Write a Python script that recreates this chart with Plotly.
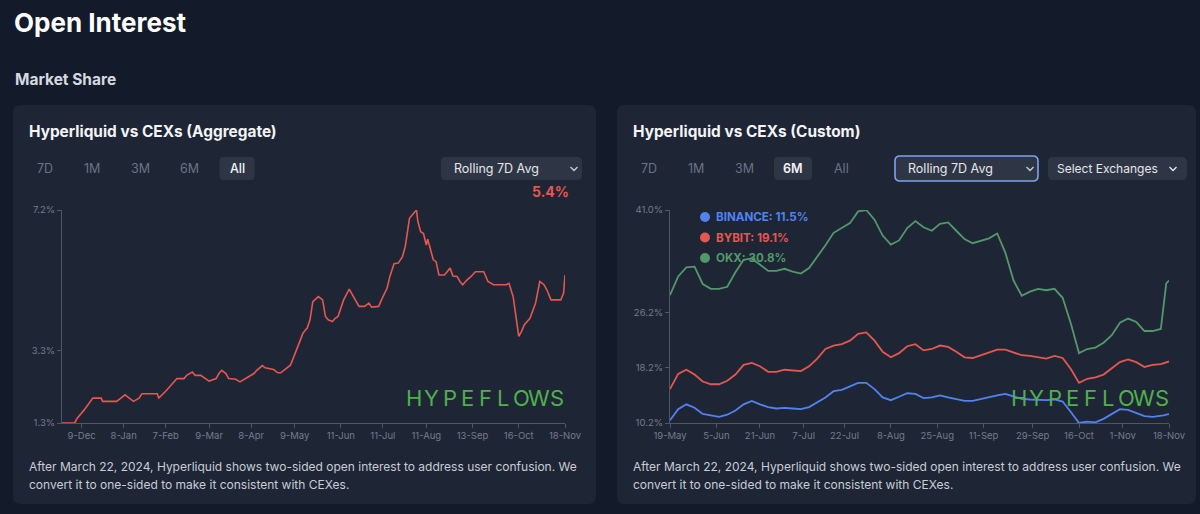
import plotly.graph_objects as go

W, H = 1200, 514

# ---------------- DATA ----------------
agg_dates = [
    "2023-11-25", "2023-12-04", "2023-12-06", "2023-12-11", "2023-12-17", "2023-12-23", "2023-12-24",
    "2024-01-03", "2024-01-06", "2024-01-09", "2024-01-12", "2024-01-15", "2024-01-19", "2024-01-21",
    "2024-02-01", "2024-02-02", "2024-02-07", "2024-02-13", "2024-02-15", "2024-02-20", "2024-02-22",
    "2024-02-26", "2024-02-28", "2024-03-03", "2024-03-06", "2024-03-09", "2024-03-14", "2024-03-16",
    "2024-03-18", "2024-03-21", "2024-03-23", "2024-03-28", "2024-03-31", "2024-04-03", "2024-04-06",
    "2024-04-10", "2024-04-12", "2024-04-16", "2024-04-18", "2024-04-24", "2024-04-27", "2024-04-29",
    "2024-05-02", "2024-05-06", "2024-05-08", "2024-05-12", "2024-05-15", "2024-05-18", "2024-05-20",
    "2024-05-22", "2024-05-26", "2024-05-29", "2024-05-31", "2024-06-02", "2024-06-05", "2024-06-07",
    "2024-06-09", "2024-06-13", "2024-06-17", "2024-06-20", "2024-06-24", "2024-06-28", "2024-07-01",
    "2024-07-03", "2024-07-08", "2024-07-10", "2024-07-14", "2024-07-16", "2024-07-19", "2024-07-22",
    "2024-07-25", "2024-07-27", "2024-07-30", "2024-08-02", "2024-08-04", "2024-08-05", "2024-08-07",
    "2024-08-09", "2024-08-11", "2024-08-12", "2024-08-14", "2024-08-16", "2024-08-18", "2024-08-20",
    "2024-08-24", "2024-08-28", "2024-08-30", "2024-09-02", "2024-09-04", "2024-09-06", "2024-09-09",
    "2024-09-12", "2024-09-15", "2024-09-21", "2024-09-24", "2024-09-28", "2024-10-07", "2024-10-09",
    "2024-10-12", "2024-10-14", "2024-10-16", "2024-10-18", "2024-10-20", "2024-10-24", "2024-10-28",
    "2024-10-31", "2024-11-03", "2024-11-05", "2024-11-08", "2024-11-15", "2024-11-17", "2024-11-18",
]
agg_share = [
    1.30, 1.30, 1.44, 1.67, 1.99, 1.99, 1.90,
    1.90, 1.99, 2.08, 1.99, 1.90, 1.99, 2.11,
    2.11, 1.99, 2.18, 2.44, 2.53, 2.53, 2.62,
    2.71, 2.62, 2.62, 2.53, 2.46, 2.53, 2.67,
    2.76, 2.67, 2.53, 2.51, 2.44, 2.51, 2.58,
    2.67, 2.76, 2.89, 2.83, 2.78, 2.69, 2.69,
    2.78, 2.90, 3.09, 3.47, 3.79, 3.93, 4.16,
    4.66, 4.80, 4.71, 4.25, 4.16, 4.11, 4.20,
    4.25, 4.71, 5.01, 4.80, 4.53, 4.53, 4.62,
    4.51, 4.53, 4.71, 5.03, 5.36, 5.71, 5.73,
    5.91, 6.19, 6.97, 7.11, 7.20, 6.88, 6.60,
    6.55, 6.23, 6.39, 6.09, 5.82, 5.77, 5.40,
    5.40, 5.59, 5.37, 5.36, 5.22, 5.13, 5.26,
    5.36, 5.49, 5.49, 5.22, 5.13, 5.13, 5.17,
    4.80, 4.25, 3.70, 3.84, 4.02, 4.20, 4.62,
    5.22, 5.13, 4.99, 4.71, 4.71, 4.90, 5.40,
]
agg_tickvals = ["2023-12-09", "2024-01-08", "2024-02-07", "2024-03-09", "2024-04-08", "2024-05-09",
                "2024-06-11", "2024-07-11", "2024-08-11", "2024-09-13", "2024-10-16", "2024-11-18"]
agg_ticktext = ["9-Dec", "8-Jan", "7-Feb", "9-Mar", "8-Apr", "9-May",
                "11-Jun", "11-Jul", "11-Aug", "13-Sep", "16-Oct", "18-Nov"]
agg_yticks = [1.3, 3.3, 7.2]
agg_ytext = ["1.3%", "3.3%", "7.2%"]

cex_dates = [
    "2024-05-19", "2024-05-22", "2024-05-25", "2024-05-28", "2024-05-31", "2024-06-03", "2024-06-06",
    "2024-06-09", "2024-06-12", "2024-06-15", "2024-06-18", "2024-06-21", "2024-06-24", "2024-06-27",
    "2024-06-30", "2024-07-03", "2024-07-06", "2024-07-09", "2024-07-12", "2024-07-15", "2024-07-18",
    "2024-07-21", "2024-07-24", "2024-07-27", "2024-07-30", "2024-08-02", "2024-08-05", "2024-08-08",
    "2024-08-11", "2024-08-14", "2024-08-17", "2024-08-20", "2024-08-23", "2024-08-26", "2024-08-29",
    "2024-09-01", "2024-09-04", "2024-09-07", "2024-09-10", "2024-09-13", "2024-09-16", "2024-09-19",
    "2024-09-22", "2024-09-25", "2024-09-28", "2024-10-01", "2024-10-04", "2024-10-07", "2024-10-10",
    "2024-10-13", "2024-10-16", "2024-10-19", "2024-10-22", "2024-10-25", "2024-10-28", "2024-10-31",
    "2024-11-03", "2024-11-06", "2024-11-09", "2024-11-12", "2024-11-15", "2024-11-16", "2024-11-17",
    "2024-11-18",
]
okx_share = [
    28.7, 31.4, 32.7, 32.8, 30.3, 29.6, 29.6,
    29.9, 32.0, 33.8, 34.0, 33.1, 32.2, 32.2,
    32.5, 32.1, 31.8, 32.6, 34.2, 35.9, 37.7,
    38.4, 39.1, 40.8, 41.0, 39.6, 37.3, 36.0,
    36.6, 38.4, 39.4, 38.5, 38.0, 39.0, 39.2,
    38.0, 36.8, 36.2, 36.6, 36.9, 37.6, 34.8,
    30.8, 28.6, 29.2, 29.6, 29.4, 29.6, 28.3,
    24.6, 20.3, 20.9, 21.1, 21.8, 22.9, 24.7,
    25.3, 24.8, 23.5, 23.5, 23.8, 27.0, 30.4,
    30.8,
]
bybit_share = [
    15.1, 17.3, 17.9, 17.2, 16.2, 15.8, 15.8,
    16.3, 17.2, 18.6, 18.9, 18.4, 17.6, 17.6,
    17.9, 17.8, 17.7, 18.4, 19.5, 20.9, 21.4,
    21.6, 22.1, 23.1, 23.3, 22.1, 20.5, 19.7,
    20.3, 21.3, 21.6, 20.7, 20.9, 21.4, 21.2,
    20.5, 19.7, 19.6, 20.0, 20.4, 20.8, 20.8,
    20.4, 20.0, 19.9, 19.7, 19.5, 19.9, 19.6,
    18.0, 16.0, 16.6, 16.8, 17.2, 18.1, 19.0,
    19.4, 19.0, 18.3, 18.6, 18.7, 18.8, 18.9,
    19.1,
]
binance_share = [
    10.6, 12.2, 12.9, 12.4, 11.5, 11.3, 11.1,
    11.4, 12.0, 12.9, 13.4, 12.9, 12.5, 12.3,
    12.4, 12.3, 12.2, 12.5, 13.2, 13.9, 14.8,
    15.0, 15.5, 16.0, 16.0, 15.1, 13.9, 13.5,
    14.0, 14.5, 14.4, 13.8, 13.9, 14.2, 13.9,
    13.6, 13.4, 13.4, 13.7, 14.0, 14.2, 14.4,
    14.0, 13.7, 13.6, 13.5, 13.5, 13.6, 13.3,
    11.8, 10.2, 10.4, 10.3, 10.8, 11.5, 12.2,
    12.1, 11.6, 11.2, 11.1, 11.2, 11.3, 11.4,
    11.5,
]
cex_tickvals = ["2024-05-19", "2024-06-05", "2024-06-21", "2024-07-07", "2024-07-22", "2024-08-08",
                "2024-08-25", "2024-09-11", "2024-09-29", "2024-10-16", "2024-11-01", "2024-11-18"]
cex_ticktext = ["19-May", "5-Jun", "21-Jun", "7-Jul", "22-Jul", "8-Aug",
                "25-Aug", "11-Sep", "29-Sep", "16-Oct", "1-Nov", "18-Nov"]
cex_yticks = [10.2, 18.2, 26.2, 41.0]
cex_ytext = ["10.2%", "18.2%", "26.2%", "41.0%"]

exchanges = ["BINANCE", "BYBIT", "OKX"]
range_buttons = ["7D", "1M", "3M", "6M", "All"]

# ---------------- STYLE ----------------
FONT = "Inter"
PAGE_BG = "#131a29"
PANEL_BG = "#1e2535"
BTN_BG = "#2e3646"
AXIS_C = "#4f5666"
TICK_C = "#757d8c"
RED = "#e5574f"
BLUE = "#5183f0"
GREEN = "#52996a"
WM_GREEN = "#4fb04c"


def px(x):
    return x / W


def py(y):
    return 1 - y / H


def rrect(x0, y0, x1, y1, r, fill, line_color=None, line_width=0):
    pts = [
        f"M{px(x0 + r)},{py(y0)}", f"L{px(x1 - r)},{py(y0)}", f"Q{px(x1)},{py(y0)} {px(x1)},{py(y0 + r)}",
        f"L{px(x1)},{py(y1 - r)}", f"Q{px(x1)},{py(y1)} {px(x1 - r)},{py(y1)}",
        f"L{px(x0 + r)},{py(y1)}", f"Q{px(x0)},{py(y1)} {px(x0)},{py(y1 - r)}",
        f"L{px(x0)},{py(y0 + r)}", f"Q{px(x0)},{py(y0)} {px(x0 + r)},{py(y0)}", "Z",
    ]
    return dict(type="path", path=" ".join(pts), xref="paper", yref="paper",
                fillcolor=fill, line=dict(color=line_color or fill, width=line_width),
                layer="below")


def chevron(cx, cy, color="#c9ced6"):
    path = f"M{px(cx - 3.5)},{py(cy - 2)} L{px(cx)},{py(cy + 1.5)} L{px(cx + 3.5)},{py(cy - 2)}"
    return dict(type="path", path=path, xref="paper", yref="paper",
                line=dict(color=color, width=1.3), layer="above")


def text(x, y, s, size, color, bold=False, xanchor="left", weight=None):
    f = dict(family=FONT, size=size, color=color)
    if weight is not None:
        f["weight"] = weight
    elif bold:
        f["weight"] = 700
    return dict(x=px(x), y=py(y), xref="paper", yref="paper", text=s, showarrow=False,
                xanchor=xanchor, yanchor="middle", font=f)


fig = go.Figure()

fig.add_trace(go.Scatter(x=agg_dates, y=agg_share, mode="lines", line=dict(color=RED, width=1.6),
                         xaxis="x", yaxis="y", hoverinfo="skip", showlegend=False))
for name, vals, col in [("OKX", okx_share, GREEN), ("BYBIT", bybit_share, RED), ("BINANCE", binance_share, BLUE)]:
    fig.add_trace(go.Scatter(x=cex_dates, y=vals, mode="lines", name=name, line=dict(color=col, width=1.8),
                             xaxis="x2", yaxis="y2", hoverinfo="skip", showlegend=False))

axis_common = dict(showgrid=False, zeroline=False, showline=True, linecolor=AXIS_C, linewidth=1,
                   automargin=False,
                   ticks="outside", ticklen=4, tickcolor=AXIS_C, tickfont=dict(family=FONT, size=9.5, color=TICK_C))

fig.update_layout(
    template="none",
    width=W, height=H, margin=dict(l=0, r=0, t=0, b=0, pad=0, autoexpand=False),
    paper_bgcolor=PAGE_BG, plot_bgcolor="rgba(0,0,0,0)",
    showlegend=False,
    xaxis=dict(domain=[px(62), px(565)], anchor="y", type="date",
               range=["2023-11-25", "2024-11-18"], tickvals=agg_tickvals, ticktext=agg_ticktext, **axis_common),
    yaxis=dict(domain=[py(423), py(210)], anchor="x", range=[1.3, 7.2],
               tickvals=agg_yticks, ticktext=agg_ytext, **axis_common),
    xaxis2=dict(domain=[px(670), px(1169)], anchor="y2", type="date",
                range=["2024-05-19", "2024-11-18"], tickvals=cex_tickvals, ticktext=cex_ticktext, **axis_common),
    yaxis2=dict(domain=[py(423), py(210)], anchor="x2", range=[10.2, 41.0],
                tickvals=cex_yticks, ticktext=cex_ytext, **axis_common),
)

shapes = []
annotations = []

# page header
annotations.append(text(12, 23, "Open Interest", 26, "#ffffff", bold=True))
annotations.append(text(13, 79, "Market Share", 15.5, "#d5d9e0", bold=True))

# panels
for (x0, x1, title) in [(13, 596, "Hyperliquid vs CEXs (Aggregate)"), (617, 1196, "Hyperliquid vs CEXs (Custom)")]:
    shapes.append(rrect(x0, 105, x1, 504, 8, PANEL_BG))
    annotations.append(text(x0 + 14, 131, title, 15.4, "#f3f4f6", bold=True))
    annotations.append(text(x0 + 14, 466,
                            "After March 22, 2024, Hyperliquid shows two-sided open interest to address user confusion. We",
                            12, "#c8cdd5"))
    annotations.append(text(x0 + 14, 484, "convert it to one-sided to make it consistent with CEXes.", 12, "#c8cdd5"))

# range buttons
left_btn_x = [45, 92, 140, 189, 237]
right_btn_x = [649, 696, 744, 793, 841]
for xs, active in [(left_btn_x, "All"), (right_btn_x, "6M")]:
    for lab, cx in zip(range_buttons, xs):
        if lab == active:
            hw = 17.5 if lab == "All" else 19
            shapes.append(rrect(cx - hw, 157, cx + hw, 180, 4, BTN_BG))
            annotations.append(text(cx, 169, lab, 12.5, "#f3f4f6", xanchor="center", weight=600 if lab == "6M" else 500))
        else:
            annotations.append(text(cx, 169, lab, 12.5, "#6b7384", xanchor="center"))

# dropdowns
shapes.append(rrect(441, 157, 582, 180, 5, BTN_BG))
annotations.append(text(452, 169, "Rolling 7D Avg", 12.5, "#e5e7eb"))
shapes.append(chevron(574, 169))

shapes.append(rrect(895, 156, 1038, 181, 5, BTN_BG, line_color="#7fa3ee", line_width=1.6))
annotations.append(text(906, 169, "Rolling 7D Avg", 12.5, "#e5e7eb"))
shapes.append(chevron(1030, 169))

shapes.append(rrect(1048, 157, 1187, 180, 5, BTN_BG))
annotations.append(text(1055, 169, "Select Exchanges", 12, "#e5e7eb"))
shapes.append(chevron(1173, 169, "#e5e7eb"))

# latest value label (left)
annotations.append(text(571, 191, f"{agg_share[-1]:.1f}%", 14, RED, bold=True, xanchor="right"))

# custom legend (right)
leg_vals = [binance_share[-1], bybit_share[-1], okx_share[-1]]
leg_cols = [BLUE, RED, GREEN]
for i, (nm, v, c) in enumerate(zip(exchanges, leg_vals, leg_cols)):
    cy = 217 + i * 20.5
    shapes.append(dict(type="circle", xref="paper", yref="paper",
                       x0=px(700), x1=px(710), y0=py(cy + 5), y1=py(cy - 5),
                       fillcolor=c, line=dict(width=0), layer="above"))
    annotations.append(text(714, cy, f"{nm}: {v:.1f}%", 11.6, c, bold=True))

# watermarks
for x0 in (407, 1012):
    letters = "HYPEFLOWS"
    step = 143 / 8
    for i, ch in enumerate(letters):
        annotations.append(text(x0 + 7 + i * step, 398, ch, 22, WM_GREEN, xanchor="center", weight=400))

fig.update_layout(shapes=shapes, annotations=annotations)
fig.write_html("out.html")
